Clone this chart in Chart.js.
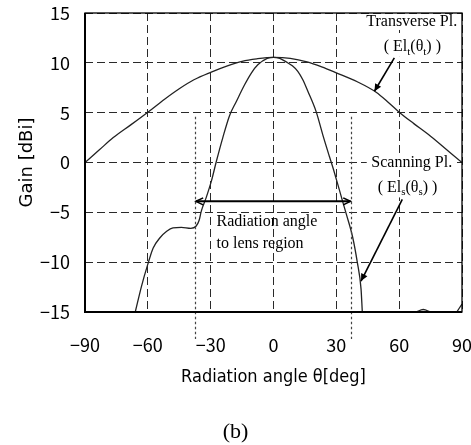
<!DOCTYPE html>
<html>
<head>
<meta charset="utf-8">
<script src="https://cdn.jsdelivr.net/npm/chart.js@4/dist/chart.umd.min.js"></script>
<style>
  html, body { margin: 0; padding: 0; background: #fff; }
  #c { display: block; }
</style>
</head>
<body>
<canvas id="c" width="471" height="445"></canvas>
<script>
// ---- data ----
const xTicks = [-90, -60, -30, 0, 30, 60, 90];
const yTicks = [-15, -10, -5, 0, 5, 10, 15];

// Transverse plane El_t(theta_t)
const thetaT = [-90, -83, -76.5, -68, -60, -52, -45, -38, -30, -22, -15, -8, 0, 8, 16, 23, 30, 40, 49, 55, 60, 67, 74, 82, 90];
const gainT  = [0, 1.3, 2.5, 3.8, 5.05, 6.35, 7.4, 8.3, 9.05, 9.7, 10.15, 10.4, 10.55, 10.45, 10.1, 9.6, 9.0, 8.1, 7.05, 6.0, 5.05, 3.9, 2.8, 1.4, 0];

// Scanning plane El_s(theta_s)
const thetaS = [-66, -63, -60, -57.5, -54.2, -51, -48, -44, -39.5, -37, -35.5, -34.5, -32.1, -29.7, -27.3, -24.2, -21, -17.8, -13.8, -10.5, -7.5, -3, 0, 3, 6, 9, 11.6, 14, 16.4, 20.4, 23.5, 26.7, 28.5, 30.7, 33, 34.8, 37.8, 40, 41.8, 42.4];
const gainS  = [-15, -12.4, -10.2, -8.6, -7.55, -6.9, -6.55, -6.5, -6.6, -6.4, -5.8, -4.9, -3.5, -1.9, 0.1, 2.5, 4.7, 6.1, 7.8, 9.0, 9.8, 10.45, 10.55, 10.45, 10.1, 9.7, 9.15, 8.3, 7.15, 5.08, 2.8, 0.6, -0.6, -2.2, -3.9, -5.2, -7.5, -10, -12.7, -15];

// small side-lobe bumps at the floor (null = gap)
const thetaB = [68, 71.5, 75, 80, 87.5, 90];
const gainB  = [-15, -14.75, -15, null, -15, -14.2];

// annotation anchors (data coordinates)
const lensLeft = -37.5, lensRight = 37.2, lensTop = 4.6, arrowGain = -3.9;

const toPts = (xs, ys) => xs.map((x, i) => ({ x: x, y: ys[i] }));

const tickFont = "'Noto Sans CJK JP', 'DejaVu Sans Condensed', sans-serif";
const titleFont = "'DejaVu Sans', sans-serif";
const xTitleFont = "'DejaVu Sans Condensed', 'DejaVu Sans', sans-serif";
const serif = "'Liberation Serif', 'DejaVu Serif', serif";
const fmt = v => String(v).replace('-', '\u2212');

function textWithSubs(ctx, parts, cx, cy, size) {
  let total = 0;
  const widths = parts.map(p => {
    ctx.font = (p[1] ? Math.round(size * 0.68) : size) + 'px ' + serif;
    const w = ctx.measureText(p[0]).width;
    total += w;
    return w;
  });
  let x = cx - total / 2;
  ctx.textBaseline = 'middle';
  ctx.textAlign = 'left';
  parts.forEach((p, i) => {
    ctx.font = (p[1] ? Math.round(size * 0.68) : size) + 'px ' + serif;
    ctx.fillText(p[0], x, p[1] ? cy + size * 0.3 : cy);
    x += widths[i];
  });
  return total;
}

function arrowHead(ctx, x1, y1, x2, y2, len, filled) {
  const a = Math.atan2(y2 - y1, x2 - x1);
  const w = 0.45;
  ctx.beginPath();
  ctx.moveTo(x2 - len * Math.cos(a - w), y2 - len * Math.sin(a - w));
  ctx.lineTo(x2, y2);
  ctx.lineTo(x2 - len * Math.cos(a + w), y2 - len * Math.sin(a + w));
  if (filled) { ctx.closePath(); ctx.fill(); } else { ctx.stroke(); }
}

const labels = {
  trans: { x: 66, y: 14.1 },
  transSub: { x: 66.3, y: 11.6 },
  scan: { x: 66, y: 0 },
  scanSub: { x: 64, y: -2.5 },
  lens1: { x: -27.2, y: -5.9 },
  lens2: { x: -27.2, y: -8.2 },
  ptr1: [57.7, 10.5, 48.2, 7.15],
  ptr2: [61.5, -3.7, 41.8, -11.9]
};

const annot = {
  id: 'annot',
  beforeDatasetsDraw(chart) {
    const { ctx, scales: { x, y } } = chart;
    ctx.save();
    ctx.fillStyle = '#fff';
    const boxes = [
      [labels.trans, 94, 16],
      [labels.transSub, 62, 20],
      [labels.scan, 90, 15],
      [labels.scanSub, 64, 20]
    ];
    boxes.forEach(b => {
      const cx = x.getPixelForValue(b[0].x), cy = y.getPixelForValue(b[0].y);
      ctx.fillRect(cx - b[1] / 2, cy - b[2] / 2, b[1], b[2]);
    });
    ctx.restore();
  },
  afterDatasetsDraw(chart) {
    const { ctx, chartArea: ca, scales: { x, y } } = chart;
    ctx.save();
    // dotted limits of lens region
    ctx.strokeStyle = '#444';
    ctx.lineWidth = 1.2;
    ctx.setLineDash([2.5, 2.5]);
    [lensLeft, lensRight].forEach(v => {
      const px = Math.round(x.getPixelForValue(v)) + 0.5;
      ctx.beginPath();
      ctx.moveTo(px, y.getPixelForValue(lensTop));
      ctx.lineTo(px, ca.bottom + 27);
      ctx.stroke();
    });
    ctx.setLineDash([]);

    // double arrow
    const ay = y.getPixelForValue(arrowGain);
    const axL = x.getPixelForValue(lensLeft), axR = x.getPixelForValue(lensRight);
    ctx.strokeStyle = '#000';
    ctx.lineWidth = 2;
    ctx.beginPath();
    ctx.moveTo(axL + 1, ay);
    ctx.lineTo(axR - 1, ay);
    ctx.stroke();
    ctx.lineWidth = 1.6;
    arrowHead(ctx, axR, ay, axL + 1, ay, 8, false);
    arrowHead(ctx, axL, ay, axR - 1, ay, 8, false);

    // pointer arrows
    ctx.lineWidth = 1.6;
    ctx.fillStyle = '#000';
    [labels.ptr1, labels.ptr2].forEach(p => {
      const x1 = x.getPixelForValue(p[0]), y1 = y.getPixelForValue(p[1]);
      const x2 = x.getPixelForValue(p[2]), y2 = y.getPixelForValue(p[3]);
      ctx.beginPath();
      ctx.moveTo(x1, y1);
      ctx.lineTo(x2, y2);
      ctx.stroke();
      arrowHead(ctx, x1, y1, x2, y2, 8, true);
    });

    // texts
    ctx.fillStyle = '#000';
    ctx.font = '16px ' + serif;
    ctx.textBaseline = 'middle';
    ctx.textAlign = 'center';
    ctx.fillText('Transverse Pl.', x.getPixelForValue(labels.trans.x), y.getPixelForValue(labels.trans.y));
    ctx.fillText('Scanning Pl.', x.getPixelForValue(labels.scan.x), y.getPixelForValue(labels.scan.y));
    textWithSubs(ctx, [['( El', false], ['t', true], ['(\u03B8', false], ['t', true], [') )', false]],
      x.getPixelForValue(labels.transSub.x), y.getPixelForValue(labels.transSub.y), 16);
    textWithSubs(ctx, [['( El', false], ['s', true], ['(\u03B8', false], ['s', true], [') )', false]],
      x.getPixelForValue(labels.scanSub.x), y.getPixelForValue(labels.scanSub.y), 16);
    ctx.font = '16px ' + serif;
    ctx.textAlign = 'left';
    ctx.fillText('Radiation angle', x.getPixelForValue(labels.lens1.x), y.getPixelForValue(labels.lens1.y));
    ctx.fillText('to lens region', x.getPixelForValue(labels.lens2.x), y.getPixelForValue(labels.lens2.y));

    // frame
    ctx.strokeStyle = '#000';
    ctx.lineWidth = 1.3;
    ctx.strokeRect(ca.left, ca.top, ca.right - ca.left, ca.bottom - ca.top);
    ctx.lineWidth = 2;
    ctx.beginPath();
    ctx.moveTo(ca.left, ca.top);
    ctx.lineTo(ca.left, ca.bottom);
    ctx.lineTo(ca.right, ca.bottom);
    ctx.stroke();

    // panel caption
    ctx.font = '22px ' + serif;
    ctx.textAlign = 'center';
    ctx.textBaseline = 'middle';
    ctx.fillText('(b)', chart.width / 2, 432);
    ctx.restore();
  }
};

const lineStyle = { borderColor: '#222', borderWidth: 1.3, pointRadius: 0, fill: false, cubicInterpolationMode: 'monotone' };

new Chart(document.getElementById('c'), {
  type: 'line',
  data: {
    datasets: [
      Object.assign({ label: 'Transverse Pl.', data: toPts(thetaT, gainT) }, lineStyle),
      Object.assign({ label: 'Scanning Pl.', data: toPts(thetaS, gainS) }, lineStyle),
      Object.assign({ label: 'Scanning Pl. side lobes', data: toPts(thetaB, gainB), spanGaps: false }, lineStyle)
    ]
  },
  options: {
    responsive: false,
    animation: false,
    devicePixelRatio: 1,
    layout: { padding: 0 },
    plugins: { legend: { display: false }, tooltip: { enabled: false } },
    scales: {
      x: {
        type: 'linear',
        min: -90, max: 90,
        afterBuildTicks: s => { s.ticks = xTicks.map(v => ({ value: v })); },
        afterFit: s => { s.height = 133; s.paddingLeft = 0; s.paddingRight = 9; s.paddingTop = 0; s.paddingBottom = 0; },
        ticks: { padding: 22, color: '#000', font: { family: tickFont, size: 18 }, callback: v => fmt(v), maxRotation: 0 },
        grid: { color: '#2a2a2a', lineWidth: 1, drawTicks: false },
        border: { display: false, dash: [8, 4] },
        title: { display: true, text: 'Radiation angle \u03B8[deg]', color: '#000', font: { family: xTitleFont, size: 18 }, padding: { top: 0, bottom: 57 } }
      },
      y: {
        min: -15, max: 15,
        afterBuildTicks: s => { s.ticks = yTicks.map(v => ({ value: v })); },
        afterFit: s => { s.width = 85; s.paddingTop = 13; s.paddingBottom = 0; s.paddingLeft = 0; s.paddingRight = 0; },
        ticks: { padding: 15, color: '#000', font: { family: tickFont, size: 18 }, callback: v => fmt(v) },
        grid: { color: '#2a2a2a', lineWidth: 1, drawTicks: false },
        border: { display: false, dash: [8, 4] },
        title: { display: true, text: 'Gain [dBi]', color: '#000', font: { family: titleFont, size: 18 }, padding: { top: 17, bottom: 0 } }
      }
    }
  },
  plugins: [annot]
});
</script>
</body>
</html>
